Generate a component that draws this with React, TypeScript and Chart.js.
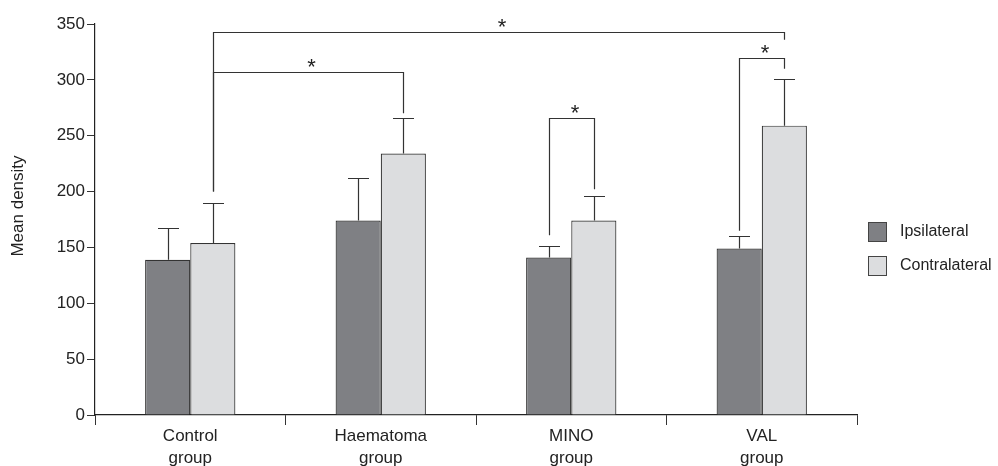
import React, { useEffect, useRef } from "react";
import { Chart, registerables } from "chart.js";

Chart.register(...registerables);

const categories = [["Control", "group"], ["Haematoma", "group"], ["MINO", "group"], ["VAL", "group"]];
const seriesNames = ["Ipsilateral", "Contralateral"];
const ipsilateral = [139, 174, 141, 149];
const contralateral = [154, 234, 174, 259];
const ipsilateralErr = [167, 212, 151, 160];
const contralateralErr = [190, 266, 196, 301];
const yTicks = [0, 50, 100, 150, 200, 250, 300, 350];
const yTitle = "Mean density";
// [fromGroup, fromSeries, toGroup, toSeries, topValue, leftEndValue, rightEndValue]
const brackets = [
  [0, 1, 3, 1, 343, 200, 336],
  [0, 1, 1, 1, 307, 200, 270],
  [2, 0, 2, 1, 266, 161, 202],
  [3, 0, 3, 1, 320, 165, 310],
];

const FONT = "'Liberation Sans', Arial, sans-serif";
const colors = ["#7f8084", "#dcdddf"];

export default function App() {
  const ref = useRef<HTMLCanvasElement | null>(null);
  useEffect(() => {
    document.body.style.margin = "0";
    const overlay = {
      id: "overlay",
      afterDatasetsDraw(chart: any) {
        const ctx = chart.ctx;
        const y = chart.scales.y;
        const errs = [ipsilateralErr, contralateralErr];
        const vals = [ipsilateral, contralateral];
        ctx.save();
        ctx.strokeStyle = "#333";
        ctx.lineWidth = 1.2;
        for (let d = 0; d < 2; d++) {
          const meta = chart.getDatasetMeta(d);
          meta.data.forEach((el: any, i: number) => {
            const x = Math.round(el.x) + 0.5;
            const yt = y.getPixelForValue(vals[d][i]);
            const ye = Math.round(y.getPixelForValue(errs[d][i])) + 0.5;
            ctx.beginPath();
            ctx.moveTo(x, yt);
            ctx.lineTo(x, ye);
            ctx.moveTo(x - 10.5, ye);
            ctx.lineTo(x + 10.5, ye);
            ctx.stroke();
          });
        }
        // brackets
        brackets.forEach((b) => {
          const x1 = Math.round(chart.getDatasetMeta(b[1]).data[b[0]].x) + 0.5;
          const x2 = Math.round(chart.getDatasetMeta(b[3]).data[b[2]].x) + 0.5;
          const yt = Math.round(y.getPixelForValue(b[4])) + 0.5;
          const yl = y.getPixelForValue(b[5]);
          const yr = y.getPixelForValue(b[6]);
          ctx.beginPath();
          ctx.moveTo(x1, yl);
          ctx.lineTo(x1, yt);
          ctx.lineTo(x2, yt);
          ctx.lineTo(x2, yr);
          ctx.stroke();
          ctx.fillStyle = "#222";
          ctx.font = "22px " + FONT;
          ctx.textAlign = "center";
          ctx.textBaseline = "alphabetic";
          ctx.fillText("*", (x1 + x2) / 2 + 3, yt + 1);
        });
        // y title
        ctx.save();
        ctx.translate(18, 206);
        ctx.rotate(-Math.PI / 2);
        ctx.font = "17px " + FONT;
        ctx.fillStyle = "#222";
        ctx.textAlign = "center";
        ctx.textBaseline = "middle";
        ctx.fillText(yTitle, 0, 0);
        ctx.restore();
        // legend
        const lx = 868;
        const ly = [222, 256];
        ctx.font = "16px " + FONT;
        ctx.textAlign = "left";
        ctx.textBaseline = "middle";
        seriesNames.forEach((n, i) => {
          ctx.fillStyle = colors[i];
          ctx.fillRect(lx, ly[i], 18, 19);
          ctx.strokeStyle = "#444";
          ctx.lineWidth = 1;
          ctx.strokeRect(lx + 0.5, ly[i] + 0.5, 18, 19);
          ctx.fillStyle = "#222";
          ctx.fillText(n, 900, ly[i] + 10);
        });
        ctx.restore();
      },
    };
    const chart = new Chart(ref.current!, {
      type: "bar",
      data: {
        labels: categories,
        datasets: [
          { label: seriesNames[0], data: ipsilateral, backgroundColor: colors[0], borderColor: "#333", borderWidth: 1.2 },
          { label: seriesNames[1], data: contralateral, backgroundColor: colors[1], borderColor: "#333", borderWidth: 1.2 },
        ],
      },
      options: {
        animation: false,
        responsive: false,
        layout: { padding: { top: 24, right: 141, left: 0, bottom: 0 } },
        plugins: { legend: { display: false }, tooltip: { enabled: false } },
        datasets: { bar: { categoryPercentage: 0.474, barPercentage: 1 } },
        scales: {
          x: {
            afterFit(s: any) { s.height = 51; },
            grid: { offset: true, drawOnChartArea: false, tickLength: 10, color: "#333", lineWidth: 1 },
            border: { color: "#222", width: 1.2 },
            ticks: { color: "#222", font: { family: FONT, size: 17, lineHeight: 1.25 }, padding: 1 },
          },
          y: {
            min: 0,
            max: 350,
            afterFit(s: any) { s.width = 95; },
            afterBuildTicks(s: any) { s.ticks = yTicks.map((v) => ({ value: v })); },
            grid: { drawOnChartArea: false, tickLength: 8, color: "#333" },
            border: { color: "#222", width: 1.2 },
            ticks: { color: "#222", font: { family: FONT, size: 17 }, padding: 2 },
          },
        },
      },
      plugins: [overlay],
    });
    return () => chart.destroy();
  }, []);
  return <canvas ref={ref} width={998} height={466} style={{ display: "block" }} />;
}
